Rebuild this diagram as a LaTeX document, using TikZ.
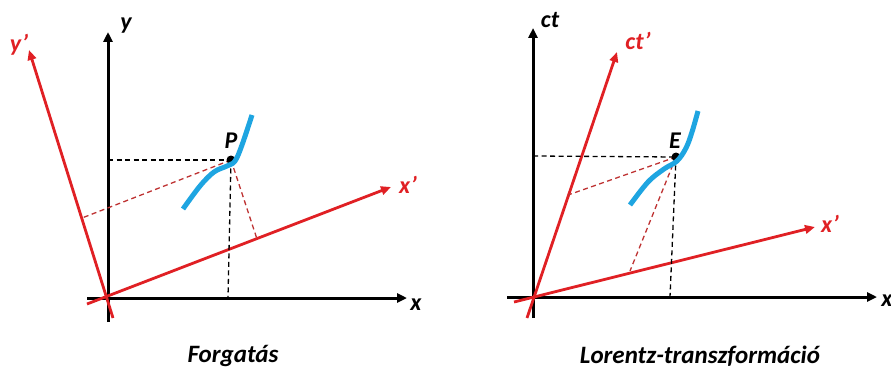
\documentclass[tikz,border=0pt]{standalone}
\usepackage{fontspec}
\setmainfont{Carlito}
\usetikzlibrary{arrows.meta}
\definecolor{axred}{RGB}{224,32,36}
\definecolor{dashred}{RGB}{190,50,50}
\definecolor{curveblue}{RGB}{30,165,225}
\tikzset{
  blackaxis/.style={line width=3pt,black,-{Triangle[length=10pt,width=9pt]}},
  redaxis/.style={line width=2.8pt,axred,-{Triangle[length=10pt,width=8.5pt]}},
  blackdash/.style={line width=1.3pt,black,dash pattern=on 5pt off 3.5pt},
  reddash/.style={line width=1.3pt,dashred,dash pattern=on 5pt off 3.5pt},
  worldline/.style={line width=5pt,curveblue},
  lbl/.style={font=\fontsize{24}{26}\selectfont\bfseries\itshape,inner sep=0pt},
  caption/.style={font=\fontsize{25}{28}\selectfont\bfseries\itshape,inner sep=0pt},
  evdot/.style={circle,fill=black,inner sep=0pt,minimum size=9pt}
}
\begin{document}
\begin{tikzpicture}[x=1pt,y=-1pt]
\useasboundingbox (0,0) rectangle (891,369);
% ---------------- left: rotation ----------------
\coordinate (xs1) at (87,298);
\coordinate (xe1) at (407,298);
\coordinate (ys1) at (108,322);
\coordinate (ye1) at (108,32);
\coordinate (yps) at (113,318);
\coordinate (ype) at (29,50);
\coordinate (xps1) at (87,304);
\coordinate (xpe1) at (391,187);
\coordinate (P) at (231,160);
\coordinate (Py) at (108,160);
\coordinate (Px) at (228,298);
\coordinate (Pyp) at (82,218);
\coordinate (Pxp) at (257,239);
\draw[blackaxis] (xs1) -- (xe1);
\draw[blackaxis] (ys1) -- (ye1);
\draw[redaxis] (yps) -- (ype);
\draw[redaxis] (xps1) -- (xpe1);
\draw[blackdash] (Py) -- (P);
\draw[blackdash] (P) -- (Px);
\draw[reddash] (P) -- (Pyp);
\draw[reddash] (P) -- (Pxp);
\node[evdot] (Pdot) at (P) {};
\draw[worldline] plot[smooth,tension=0.6] coordinates {(183,209) (200,186) (214,172) (227,166) (235,161) (242,145) (252,115)};
\node[lbl] (lx1) at (416,305) {x};
\node[lbl] (ly1) at (126,26) {y};
\node[lbl,axred] (lyp) at (19,45) {y’};
\node[lbl,axred] (lxp1) at (408,185) {x’};
\node[lbl] (lP) at (231,141) {P};
\node[caption] (cap1) at (233,356) {Forgatás};
% ---------------- right: Lorentz ----------------
\coordinate (xs2) at (507,297);
\coordinate (xe2) at (877,297);
\coordinate (ts) at (533,318);
\coordinate (te) at (533,28);
\coordinate (tps) at (527,318);
\coordinate (tpe) at (617,52);
\coordinate (xps2) at (514,302);
\coordinate (xpe2) at (815,227);
\coordinate (E) at (676,157);
\coordinate (Et) at (533,156);
\coordinate (Ex) at (670,297);
\coordinate (Etp) at (568,195);
\coordinate (Exp) at (630,271);
\draw[blackaxis] (xs2) -- (xe2);
\draw[blackaxis] (ts) -- (te);
\draw[redaxis] (tps) -- (tpe);
\draw[redaxis] (xps2) -- (xpe2);
\draw[blackdash] (Et) -- (E);
\draw[blackdash] (E) -- (Ex);
\draw[reddash] (E) -- (Etp);
\draw[reddash] (E) -- (Exp);
\node[evdot] (Edot) at (E) {};
\draw[worldline] plot[smooth,tension=0.6] coordinates {(630,205) (648,182) (664,169) (677,161) (686,148) (692,132) (698,111)};
\node[lbl] (lx2) at (887,301) {x};
\node[lbl] (lct) at (550,20) {ct};
\node[lbl,axred] (lctp) at (638,41) {ct’};
\node[lbl,axred] (lxp2) at (830,224) {x’};
\node[lbl] (lE) at (675,141) {E};
\node[caption] (cap2) at (700,356) {Lorentz-transzformáció};
\end{tikzpicture}
\end{document}
